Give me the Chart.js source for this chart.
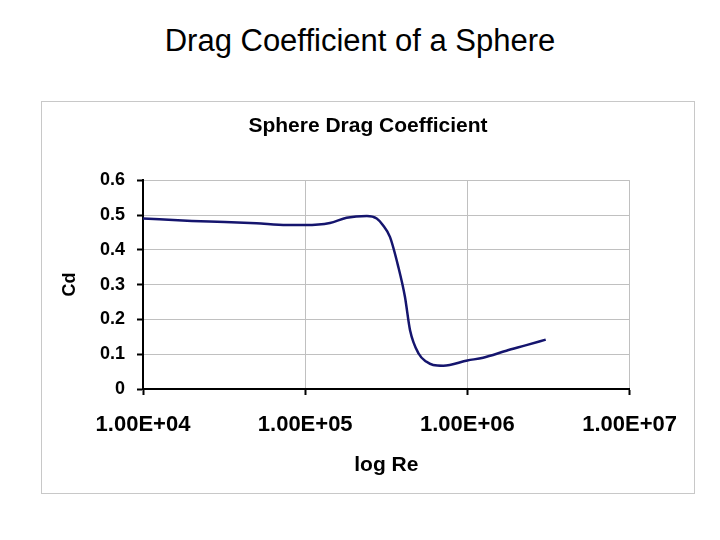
<!DOCTYPE html>
<html>
<head>
<meta charset="utf-8">
<script src="https://cdn.jsdelivr.net/npm/chart.js@4.4.1/dist/chart.umd.min.js"></script>
<style>
  html, body { margin: 0; padding: 0; background: #fff; }
  body { width: 720px; height: 540px; position: relative; overflow: hidden; font-family: "Liberation Sans", Arial, sans-serif; }
  #page-title { position: absolute; left: 0; width: 720px; top: 25px; text-align: center; font-size: 31px; line-height: 31px; color: #000; }
  #frame { position: absolute; left: 41px; top: 101px; width: 654px; height: 393px; box-sizing: border-box; border: 1px solid #c8c8c8; }
  #chart { position: absolute; left: 0; top: 0; }
</style>
</head>
<body>
<div id="page-title">Drag Coefficient of a Sphere</div>
<div id="frame"><canvas id="chart" width="652" height="391"></canvas></div>
<script>
// Reynolds number vs drag coefficient
const reynolds = [1e4, 2e4, 3.2e4, 5e4, 7.7e4, 1e5, 1.42e5, 1.8e5, 2.4e5, 2.76e5, 3.0e5, 3.33e5,
  3.75e5, 4.12e5, 4.43e5, 5e5, 5.6e5, 6.15e5, 7.1e5, 1e6, 1.25e6, 1.74e6, 2.31e6, 3.04e6];
const dragCoeff = [0.490, 0.483, 0.480, 0.476, 0.471, 0.471, 0.477, 0.492, 0.497, 0.490, 0.472, 0.437,
  0.351, 0.265, 0.169, 0.102, 0.078, 0.069, 0.067, 0.082, 0.090, 0.110, 0.126, 0.142];

const xTickValues = [1e4, 1e5, 1e6, 1e7];
const xTickLabels = ['1.00E+04', '1.00E+05', '1.00E+06', '1.00E+07'];

const FONT = '"Liberation Sans", Arial, sans-serif';
const gridColor = '#c0c0c0';

const ctx = document.getElementById('chart').getContext('2d');

new Chart(ctx, {
  type: 'line',
  data: {
    datasets: [{
      label: 'Cd',
      data: reynolds.map((re, i) => ({ x: re, y: dragCoeff[i] })),
      borderColor: '#15156e',
      borderWidth: 2.5,
      pointRadius: 0,
      fill: false,
      cubicInterpolationMode: 'monotone',
    }],
  },
  options: {
    responsive: false,
    animation: false,
    layout: { padding: 0 },
    plugins: {
      legend: { display: false },
      tooltip: { enabled: false },
      title: {
        display: true,
        text: 'Sphere Drag Coefficient',
        color: '#000',
        font: { family: FONT, size: 21, weight: 'bold' },
        padding: { top: 12, bottom: 41 },
      },
    },
    scales: {
      x: {
        type: 'logarithmic',
        min: 1e4,
        max: 1e7,
        afterBuildTicks: (scale) => {
          scale.ticks = xTickValues.map((v) => ({ value: v }));
        },
        afterFit: (scale) => { scale.height = 104; },
        ticks: {
          color: '#000',
          font: { family: FONT, size: 22, weight: 'bold' },
          padding: 17,
          maxRotation: 0,
          autoSkip: false,
          callback: (v) => xTickLabels[xTickValues.indexOf(v)] ?? '',
        },
        grid: { color: gridColor, lineWidth: 1, tickColor: '#000', tickLength: 6, tickWidth: 2 },
        border: { color: '#000', width: 2 },
        title: {
          display: true,
          text: 'log Re',
          color: '#000',
          font: { family: FONT, size: 21, weight: 'bold' },
          padding: { top: 0, bottom: 15 },
        },
      },
      y: {
        min: 0,
        max: 0.6,
        afterFit: (scale) => { scale.width = 101; },
        ticks: {
          stepSize: 0.1,
          color: '#000',
          font: { family: FONT, size: 18, weight: 'bold' },
          padding: 12,
          callback: (v) => (v === 0 ? '0' : v.toFixed(1)),
        },
        grid: { color: gridColor, lineWidth: 1, tickColor: '#000', tickLength: 6, tickWidth: 2 },
        border: { color: '#000', width: 2 },
        title: {
          display: true,
          text: 'Cd',
          color: '#000',
          font: { family: FONT, size: 18, weight: 'bold' },
          padding: { top: 17, bottom: 0 },
        },
      },
      // empty right-hand margin so the chart title centres on the whole frame
      spacer: {
        position: 'right',
        min: 0,
        max: 1,
        afterFit: (scale) => { scale.width = 61; },
        ticks: { display: false },
        grid: { display: false },
        border: { display: false },
      },
    },
  },
});
</script>
</body>
</html>
